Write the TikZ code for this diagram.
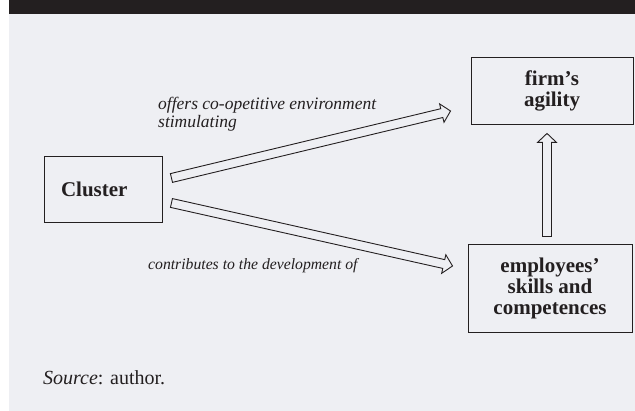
\documentclass[tikz,border=0pt]{standalone}
\usepackage{fontspec}
\setmainfont{Liberation Serif}
\usetikzlibrary{calc}
\usepackage{xcolor}
\definecolor{panelgray}{HTML}{EEEFF3}
\definecolor{inkblack}{HTML}{231F20}

\begin{document}
\begin{tikzpicture}[x=1pt,y=1pt,
  box/.style={draw=inkblack, line width=0.9pt, align=center, text=inkblack,
    font=\fontsize{21}{21}\selectfont\bfseries},
  note/.style={inner sep=0pt, text=inkblack, font=\fontsize{16}{18}\selectfont\itshape},
  hollowarrow/.style={draw=inkblack, line width=0.9pt, line join=miter,
    to path={let \p1=($(\tikztotarget)-(\tikztostart)$),
      \n1={atan2(\y1,\x1)}, \n2={veclen(\x1,\y1)-9} in
      ($(\tikztostart)+(\n1+90:4.5pt)$) -- ++(\n1:\n2) -- ++(\n1+90:5pt)
      -- (\tikztotarget) -- ($(\tikztostart)+(\n1:\n2)+(\n1-90:9.5pt)$)
      -- ++(\n1+90:5pt) -- ($(\tikztostart)+(\n1-90:4.5pt)$) -- cycle}}]
  % page and panel
  \fill[white] (0,0) rectangle (635,411);
  \fill[panelgray] (9,0) rectangle (635,397);
  \fill[inkblack] (9,397) rectangle (635,411);
  % boxes
  \node[box, minimum width=118pt, minimum height=66pt, inner xsep=17pt,
    text width=84pt, align=left] (cluster) at (103,222) {Cluster};
  \node[box, minimum width=162pt, minimum height=67pt] (agility) at (552,320.5)
    {firm’s\\agility};
  \node[box, minimum width=164pt, minimum height=88pt] (skills) at (550,123)
    {employees’\\skills and\\competences};
  % arrow ends
  \coordinate (offerTail) at ($(cluster.east)+(9,11)$);
  \coordinate (offerTip) at ($(agility.west)+(-20,-20.5)$);
  \coordinate (growTail) at ($(cluster.east)+(9,-14)$);
  \coordinate (growTip) at ($(skills.west)+(-15,22)$);
  \coordinate (riseTail) at ($(skills.north)+(-3,7)$);
  \coordinate (riseTip) at ($(agility.south)+(-5,-9)$);
  \path[hollowarrow] (offerTail) to (offerTip);
  \path[hollowarrow] (growTail) to (growTip);
  \path[hollowarrow] (riseTail) to (riseTip);
  % labels
  \node[note, anchor=north west, align=left, font=\fontsize{17.5}{18}\selectfont\itshape]
    (offerText) at (158,314) {offers co-opetitive environment\\stimulating};
  \node[note, anchor=base west, font=\fontsize{15.7}{18}\selectfont\itshape]
    (growText) at (148,141) {contributes to the development of};
  \node[inner sep=0pt, anchor=base west, text=inkblack,
    font=\fontsize{20}{20}\selectfont] (source) at (43,26)
    {\textit{Source}: author.};
\end{tikzpicture}
\end{document}
